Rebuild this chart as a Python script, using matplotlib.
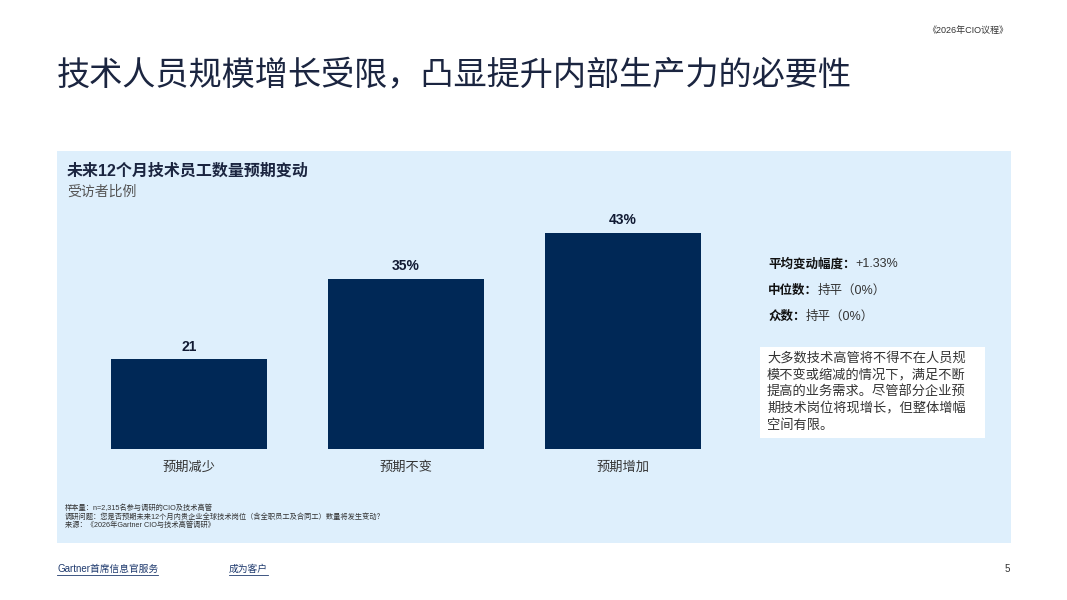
import matplotlib
matplotlib.use("Agg")
import matplotlib.pyplot as plt
from matplotlib.patches import Rectangle
from matplotlib.lines import Line2D

plt.rcParams['font.family'] = ['Liberation Sans', 'Noto Sans CJK SC', 'DejaVu Sans']

# ---- data ----
categories = ["预期减少", "预期不变", "预期增加"]
values = [21, 35, 43]
value_labels = ["21", "35%", "43%"]

title = "技术人员规模增长受限，凸显提升内部生产力的必要性"
panel_title = "未来12个月技术员工数量预期变动"
panel_subtitle = "受访者比例"
stats_keys = ["平均变动幅度：", "中位数：", "众数："]
stats_vals = ["+1.33%", "持平（0%）", "持平（0%）"]
note_lines = ["大多数技术高管将不得不在人员规",
              "模不变或缩减的情况下，满足不断",
              "提高的业务需求。尽管部分企业预",
              "期技术岗位将现增长，但整体增幅",
              "空间有限。"]
footnotes = ["样本量：n=2,315名参与调研的CIO及技术高管",
             "调研问题：您是否预期未来12个月内贵企业全球技术岗位（含全职员工及合同工）数量将发生变动？",
             "来源：《2026年Gartner CIO与技术高管调研》"]
top_right = "《2026年CIO议程》"
footer_left = "Gartner首席信息官服务"
footer_mid = "成为客户"
page_no = "5"

W, H = 1067, 600
NAVY = "#002856"
DARK = "#1b2540"
PANEL = "#deeffc"

fig = plt.figure(figsize=(W / 100, H / 100), dpi=100)
fig.patch.set_facecolor("white")

def fx(x):
    return x / W

def fy(y):
    return 1 - y / H

# panel background
fig.patches.append(Rectangle((fx(57), fy(543)), fx(1011) - fx(57), (543 - 151) / H,
                             transform=fig.transFigure, facecolor=PANEL, edgecolor="none", zorder=-2))

# title & headings
fig.text(fx(57), fy(75), title, fontsize=23.9, color=DARK, va="center", ha="left")
fig.text(fx(1008), fy(31), top_right, fontsize=6.5, color="#333333", va="center", ha="right")
fig.text(fx(67), fy(171), panel_title, fontsize=11.5, fontweight="bold", color=DARK, va="center", ha="left")
fig.text(fx(67), fy(192), panel_subtitle, fontsize=10, color="#555555", va="center", ha="left")

# bars axes
ax_left, ax_right = 80.7, 730.9
ax_bottom, ax_top = 449, 215
ax = fig.add_axes([fx(ax_left), fy(ax_bottom), (ax_right - ax_left) / W, (ax_bottom - ax_top) / H])
ax.set_zorder(2)
ax.set_facecolor("none")
y0 = 5.35
ax.set_ylim(y0, y0 + (ax_bottom - ax_top) / 5.75)
ax.set_xlim(-0.5, 2.5)
x = list(range(len(categories)))
bars = ax.bar(x, values, width=0.72, color=NAVY, zorder=2)
for xi, v, lab in zip(x, values, value_labels):
    ax.annotate(lab, (xi, v), xytext=(0, 9), textcoords="offset points",
                ha="center", va="center", fontsize=10, fontweight="bold", color="#111a33",
                annotation_clip=False)
ax.set_xticks(x)
ax.set_xticklabels(categories, fontsize=9.5, color="#333333")
ax.tick_params(axis="x", length=0, pad=9)
ax.set_yticks([])
for s in ax.spines.values():
    s.set_visible(False)

# stats on the right
fig.canvas.draw()
r = fig.canvas.get_renderer()
for i, (k, v) in enumerate(zip(stats_keys, stats_vals)):
    yy = 264 + i * 26.5
    t = fig.text(fx(768), fy(yy), k, fontsize=9, fontweight="bold", color="#111111", va="center", ha="left")
    bb = t.get_window_extent(renderer=r)
    fig.text(bb.x1 / W, fy(yy), v, fontsize=9, color="#333333", va="center", ha="left")

# white note box
fig.patches.append(Rectangle((fx(760), fy(438)), fx(985) - fx(760), (438 - 347) / H,
                             transform=fig.transFigure, facecolor="white", edgecolor="none", zorder=-1))
for i, line in enumerate(note_lines):
    fig.text(fx(767), fy(358 + i * 16.8), line, fontsize=9.5, color="#333333", va="center", ha="left", zorder=2)

# footnotes
for i, line in enumerate(footnotes):
    fig.text(fx(65), fy(508 + i * 8.8), line, fontsize=5.2, color="#333333", va="center", ha="left")

# footer
for txt, xx in [(footer_left, 57), (footer_mid, 229)]:
    t = fig.text(fx(xx), fy(569), txt, fontsize=7, color="#1f3a6e", va="center", ha="left")
    bb = t.get_window_extent(renderer=r)
    fig.add_artist(Line2D([bb.x0 / W, bb.x1 / W], [fy(575), fy(575)], transform=fig.transFigure,
                          color="#1f3a6e", lw=0.6))
fig.text(fx(1010), fy(569), page_no, fontsize=7, color="#333333", va="center", ha="right")

fig.savefig("out.png", dpi=100, facecolor="white")
